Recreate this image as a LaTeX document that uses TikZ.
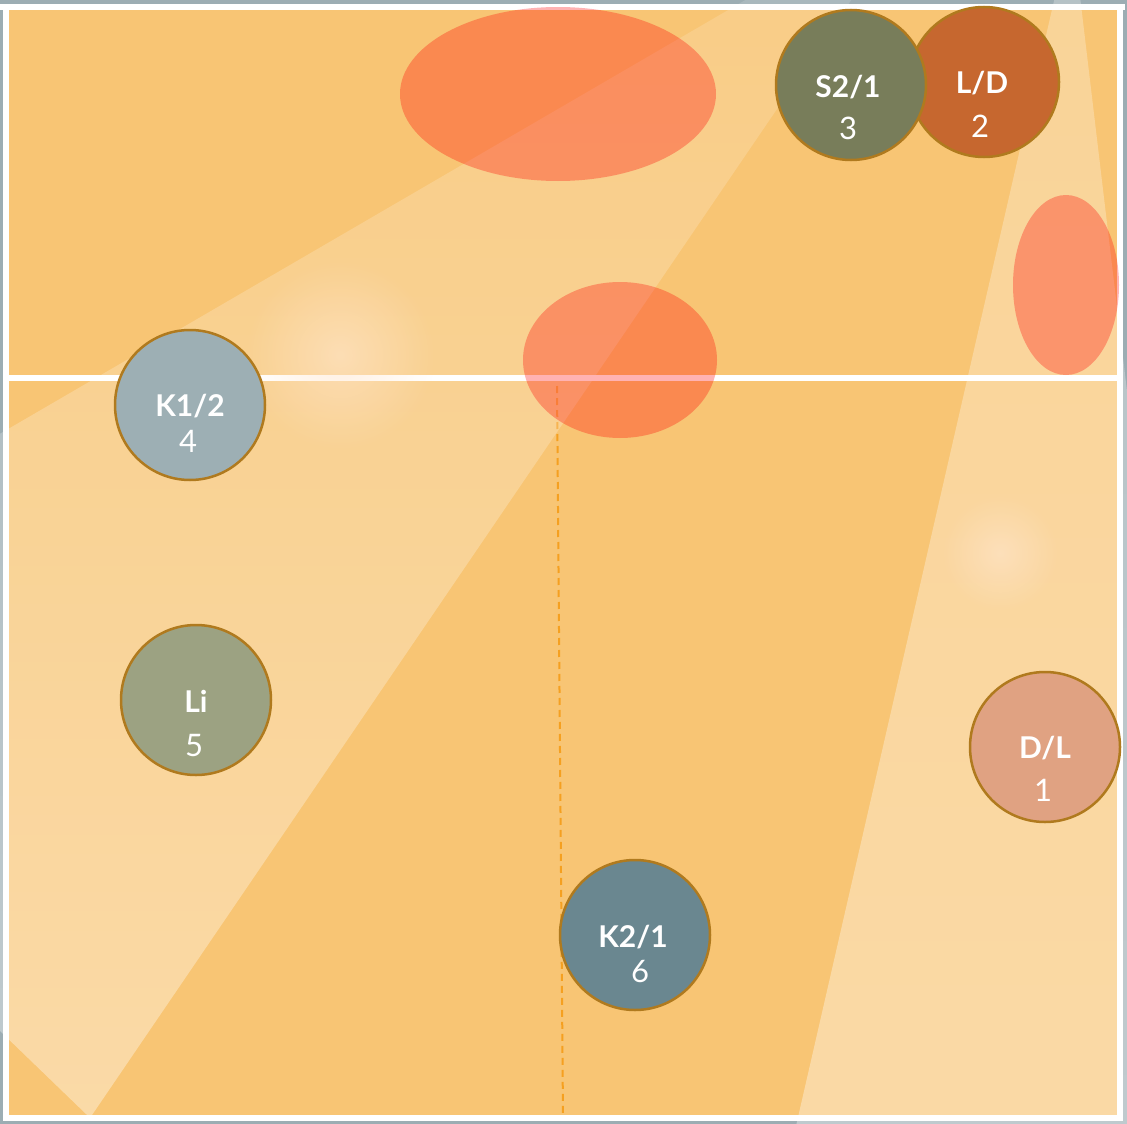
\documentclass[tikz,border=0pt]{standalone}
\usepackage{fontspec}
\setmainfont{Lato}
\usetikzlibrary{fadings}
\definecolor{bgc}{HTML}{9CADB3}
\definecolor{floorc}{HTML}{F8C574}
\definecolor{ringc}{HTML}{B07A1E}
\definecolor{dashc}{HTML}{F5A020}
\definecolor{glowc}{HTML}{FFE6CC}
\definecolor{cS}{HTML}{787D5A}
\definecolor{cLD}{HTML}{C6672F}
\definecolor{cKa}{HTML}{9DAFB4}
\definecolor{cLi}{HTML}{9CA282}
\definecolor{cDL}{HTML}{E0A282}
\definecolor{cKb}{HTML}{6A8790}
\tikzfading[name=glowfade, inner color=transparent!40, outer color=transparent!100]
\tikzfading[name=beamfadeL, top color=transparent!86, bottom color=transparent!63]
\tikzfading[name=beamfadeR, top color=transparent!74, bottom color=transparent!64]
\begin{document}
\begin{tikzpicture}[x=1pt,y=-1pt,
  player/.style={circle, draw=ringc, line width=2.5pt, minimum size=150pt, inner sep=0pt},
  tag/.style={text=white, font=\bfseries\fontsize{30}{30}\selectfont, inner sep=0pt},
  num/.style={text=white, font=\fontsize{31}{31}\selectfont, inner sep=0pt},
  spot/.style={fill=red, opacity=0.3},
  wline/.style={fill=white}]
\useasboundingbox (0,0) rectangle (1127,1124);
\clip (0,0) rectangle (1127,1124);
% background and floor
\fill[bgc] (0,0) rectangle (1127,1124);
\fill[floorc] (9,10) rectangle (1117,1115);
% white lines
\fill[wline] (0,4) rectangle (1125,10);
\fill[wline] (3,10) rectangle (9,1121);
\fill[wline] (3,1115) rectangle (1123,1121);
\fill[wline] (1117,10) rectangle (1123,1121);
\fill[wline] (9,375) rectangle (1120,381);
% dashed line
\coordinate (dtop) at (557,386);
\coordinate (dbot) at (563,1117);
\draw[dashc, line width=2pt, dash pattern=on 7pt off 5pt] (dtop) -- (dbot);
% beams
\fill[white, path fading=beamfadeL] (750,-5) -- (853,-5) -- (90,1117) -- (0,1030) -- (0,432) -- cycle;
\fill[white, path fading=beamfadeR] (1055,-5) -- (1080,-5) -- (1215,1130) -- (795,1130) -- cycle;
% glows
\fill[glowc, path fading=glowfade] (340,355) circle[radius=95pt];
\fill[glowc, path fading=glowfade] (1000,553) circle[radius=58pt];
% ellipses
\fill[spot] (558,94) ellipse[x radius=158pt, y radius=87pt];
\fill[spot] (620,360) ellipse[x radius=97pt, y radius=78pt];
\fill[spot] (1066,285) ellipse[x radius=53pt, y radius=90pt];
% players
\node[player, fill=cLD] (p2) at (984,82) {};
\node[player, fill=cS] (p3) at (851,85) {};
\node[player, fill=cKa] (p4) at (190,405) {};
\node[player, fill=cLi] (p5) at (196,700) {};
\node[player, fill=cDL] (p1) at (1045,747) {};
\node[player, fill=cKb] (p6) at (635,935) {};
% labels
\node[tag] (t2) at (982,83) {L/D};
\node[num] (n2) at (980,126) {2};
\node[tag] (t3) at (848,87) {S2/1};
\node[num] (n3) at (848,128) {3};
\node[tag] (t4) at (190,406) {K1/2};
\node[num] (n4) at (188,441) {4};
\node[tag] (t5) at (196,701) {Li};
\node[num] (n5) at (194,746) {5};
\node[tag] (t1) at (1045,748) {D/L};
\node[num] (n1) at (1043,790) {1};
\node[tag] (t6) at (633,937) {K2/1};
\node[num] (n6) at (640,972) {6};
\end{tikzpicture}
\end{document}
